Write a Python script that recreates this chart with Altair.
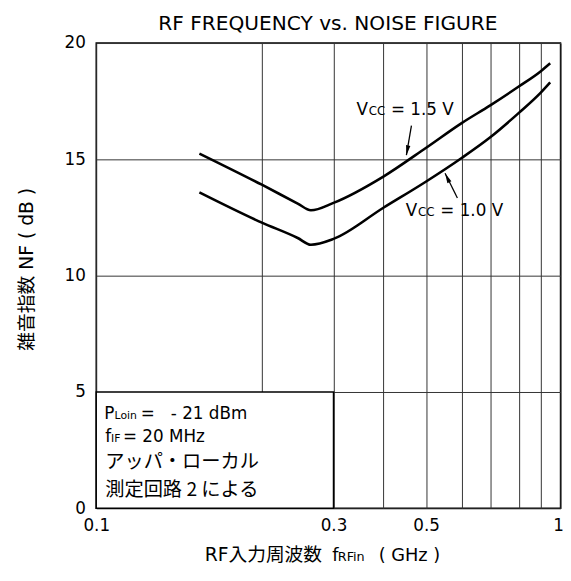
import altair as alt
import pandas as pd

# ---- data ----
freq_ticks = [0.1, 0.2, 0.3, 0.4, 0.5, 0.6, 0.7, 0.8, 0.9, 1.0]
nf_ticks = [0, 5, 10, 15, 20]

freq = [0.154, 0.2, 0.245, 0.264, 0.3, 0.4, 0.5, 0.6, 0.7, 0.8, 0.9, 0.947]
nf_vcc15 = [15.25, 13.91, 13.10, 12.81, 13.13, 14.26, 15.50, 16.56, 17.32, 18.14, 18.78, 19.13]
nf_vcc10 = [13.58, 12.28, 11.62, 11.33, 11.58, 12.92, 14.05, 15.06, 15.95, 17.01, 17.86, 18.31]

title_text = "RF FREQUENCY vs. NOISE FIGURE"
y_title = "雑音指数 NF (\u00a0dB\u00a0)"

LATIN = "DejaVu Sans"
MIXED = "DejaVu Sans, Noto Sans CJK JP"
CJK = "Noto Sans CJK JP"

# ---- scales / axes (the reference uses non-uniform log paper) ----
xs = alt.Scale(type="log", domain=freq_ticks,
               range=[0, 168, 240.7, 291.3, 334.7, 370.7, 399.7, 429, 450.7, 471],
               nice=False)
ys = alt.Scale(domain=[0, 20], nice=False, zero=False)

label_expr = ("datum.value == 0.1 ? '0.1' : datum.value == 0.3 ? '0.3' : "
              "datum.value == 0.5 ? '0.5' : datum.value == 1 ? '1' : ''")
xax = alt.Axis(values=freq_ticks, labelExpr=label_expr, grid=True, ticks=False,
               domain=False, labelFlush=False, labelOverlap=False, labelBound=False,
               labelPadding=9, labelFont=LATIN, labelFontSize=17, labelColor="black",
               labelAlign={"condition": {"test": "datum.value == 1", "value": "right"},
                           "value": "center"},
               labelOffset={"condition": {"test": "datum.value == 1", "value": 3},
                            "value": 0},
               title=None)
yax = alt.Axis(values=nf_ticks, grid=True, ticks=False, domain=False,
               labelFlush=False, labelOverlap=False, labelPadding=11,
               labelFont=LATIN, labelFontSize=17, labelColor="black",
               title=y_title, titleFont=MIXED, titleFontSize=19,
               titleFontWeight="normal", titleColor="black",
               titleAngle=270, titleX=-70.5, titleY=229,
               titleAlign="center", titleBaseline="middle")


def X(field):
    return alt.X(f"{field}:Q", scale=xs, axis=xax)


def Y(field):
    return alt.Y(f"{field}:Q", scale=ys, axis=yax)


curves = pd.DataFrame({
    "f": freq + freq,
    "nf": nf_vcc15 + nf_vcc10,
    "vcc": ["1.5"] * len(freq) + ["1.0"] * len(freq),
})

lines = alt.Chart(curves).mark_line(color="black", strokeWidth=2.6,
                                    interpolate="monotone").encode(
    x=X("f"), y=Y("nf"), detail="vcc:N")

box = alt.Chart(pd.DataFrame({"f1": [0.1], "f2": [0.3], "n1": [0], "n2": [5]})).mark_rect(
    fill="white", stroke="black", strokeWidth=1.5).encode(
    x=X("f1"), x2="f2:Q", y=Y("n1"), y2="n2:Q")


def txt(text, f, nf, size, font, dx=0):
    return alt.Chart(pd.DataFrame({"f": [f], "nf": [nf], "t": [text]})).mark_text(
        align="left", baseline="alphabetic", dx=dx, fontSize=size, font=font,
        color="black").encode(x=X("f"), y=Y("nf"), text="t:N")


def ptxt(text, px, py, size, font):
    return alt.Chart(pd.DataFrame({"t": [text]})).mark_text(
        align="left", baseline="alphabetic", fontSize=size, font=font,
        color="black").encode(x=alt.value(px), y=alt.value(py), text="t:N")


bx = 0.1034
box_texts = [
    txt("P", bx, 3.85, 17, LATIN, 0),
    txt("Loin", bx, 3.85, 11, LATIN, 10.5),
    txt("=", bx, 3.85, 17, LATIN, 37),
    txt("- 21 dBm", bx, 3.85, 17, LATIN, 67.5),
    txt("f", bx, 2.83, 17, LATIN, 1),
    txt("IF", bx, 2.83, 11, LATIN, 7),
    txt("= 20 MHz", bx, 2.83, 17, LATIN, 19),
    txt("アッパ・ローカル", bx, 1.72, 19.5, CJK, 1),
    txt("測定回路 2 による", bx, 0.52, 19.5, CJK, 1),
]

vcc_texts = [
    txt("V", 0.3424, 16.90, 17, LATIN, 0),
    txt("CC", 0.3424, 16.90, 12, LATIN, 12.5),
    txt("= 1.5 V", 0.3424, 16.90, 17, LATIN, 35),
    txt("V", 0.4496, 12.56, 17, LATIN, 0),
    txt("CC", 0.4496, 12.56, 12, LATIN, 12.5),
    txt("= 1.0 V", 0.4496, 12.56, 17, LATIN, 35),
]

arrows = pd.DataFrame({
    "f": [0.463, 0.587], "nf": [16.45, 13.34],
    "f2": [0.451, 0.551], "nf2": [15.18, 14.40],
    "ang": [190.6, 334.1],
})
shafts = alt.Chart(arrows).mark_rule(color="black", strokeWidth=1.3).encode(
    x=X("f"), y=Y("nf"), x2="f2:Q", y2="nf2:Q")
heads = alt.Chart(arrows).mark_point(
    shape="M0,0 L0.45,2 L-0.45,2 Z", filled=True, size=100, opacity=1,
    color="black").encode(
    x=X("f2"), y=Y("nf2"), angle=alt.Angle("ang:Q", scale=None))

title = alt.Chart(pd.DataFrame({"t": [title_text]})).mark_text(
    align="center", baseline="alphabetic", fontSize=20.4, font=LATIN,
    color="black").encode(x=alt.value(235), y=alt.value(-13), text="t:N")

xtitle = [
    ptxt("RF入力周波数", 110, 525.5, 19, MIXED),
    ptxt("f", 239.5, 525.5, 18, LATIN),
    ptxt("RFin", 245, 525.5, 13, LATIN),
    ptxt("(\u00a0GHz\u00a0)", 286.5, 525.5, 18, LATIN),
]

chart = alt.layer(
    box, lines, shafts, heads, *box_texts, *vcc_texts, title, *xtitle
).properties(
    width=471, height=472,
    autosize=alt.AutoSizeParams(type="none"),
    padding={"left": 89.5, "top": 31.5, "right": 2.5, "bottom": 56.5},
).configure_view(
    stroke="black", strokeWidth=1.5
).configure_axis(
    gridColor="#333333", gridWidth=1, gridOpacity=1
)

chart.save("out.html", embed_options={"renderer": "svg", "actions": False})
